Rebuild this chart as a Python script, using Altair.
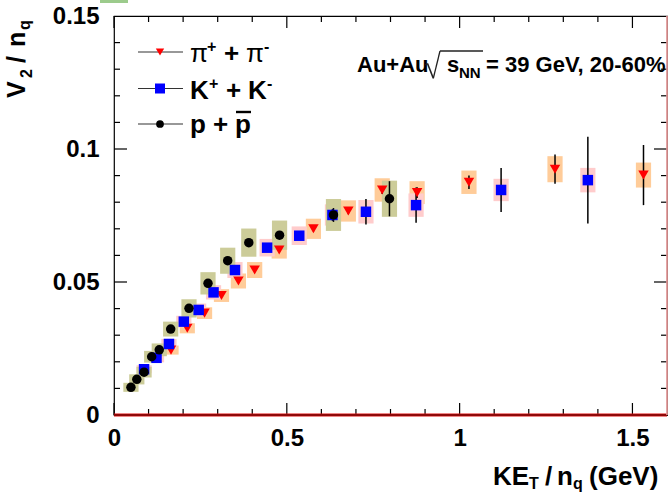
import altair as alt
import pandas as pd

# ---------------- data ----------------
pi_ke = [0.165, 0.212, 0.262, 0.311, 0.360, 0.407, 0.478, 0.577, 0.678, 0.776, 0.877, 1.027, 1.276, 1.532]
pi_v2 = [0.0244, 0.0326, 0.0383, 0.0449, 0.0504, 0.0545, 0.0620, 0.0700, 0.0767, 0.0846, 0.0836, 0.0875, 0.0924, 0.0902]
pi_stat = [0.0004, 0.0004, 0.0005, 0.0005, 0.0006, 0.0006, 0.0008, 0.0010, 0.0012, 0.0015, 0.0020, 0.0025, 0.0055, 0.0113]
pi_sys = [0.0017, 0.0019, 0.0022, 0.0024, 0.0028, 0.0030, 0.0032, 0.0038, 0.0040, 0.0044, 0.0043, 0.0044, 0.0049, 0.0047]

k_ke = [0.087, 0.123, 0.159, 0.202, 0.245, 0.288, 0.350, 0.443, 0.536, 0.632, 0.729, 0.874, 1.120, 1.371]
k_v2 = [0.0172, 0.0215, 0.0267, 0.0351, 0.0395, 0.0461, 0.0545, 0.0629, 0.0674, 0.0752, 0.0764, 0.0789, 0.0846, 0.0883]
k_stat = [0.0003, 0.0003, 0.0004, 0.0004, 0.0005, 0.0005, 0.0006, 0.0008, 0.0015, 0.0022, 0.0048, 0.0066, 0.0083, 0.0163]
k_sys = [0.0015, 0.0017, 0.0019, 0.0022, 0.0024, 0.0027, 0.0030, 0.0033, 0.0035, 0.0040, 0.0044, 0.0044, 0.0042, 0.0046]

p_ke = [0.049, 0.066, 0.087, 0.109, 0.131, 0.164, 0.217, 0.272, 0.329, 0.390, 0.479, 0.635, 0.797]
p_v2 = [0.0104, 0.0134, 0.0161, 0.0219, 0.0245, 0.0323, 0.0401, 0.0495, 0.0580, 0.0648, 0.0676, 0.0752, 0.0813]
p_stat = [0.0003, 0.0003, 0.0003, 0.0004, 0.0004, 0.0005, 0.0005, 0.0006, 0.0007, 0.0008, 0.0010, 0.0026, 0.0066]
p_sys = [0.0017, 0.0019, 0.0020, 0.0022, 0.0024, 0.0028, 0.0034, 0.0042, 0.0049, 0.0053, 0.0055, 0.0060, 0.0068]

species = ["pi", "K", "p"]
box_colors = ["#FFCC99", "#FFCCCC", "#CCCC99"]

x_major = [0, 0.5, 1.0, 1.5]
x_minor = [0.1, 0.2, 0.3, 0.4, 0.6, 0.7, 0.8, 0.9, 1.1, 1.2, 1.3, 1.4]
y_labels = [0, 0.05, 0.1, 0.15]
y_major = [0.05, 0.1]
y_minor = [0.01, 0.02, 0.03, 0.04, 0.06, 0.07, 0.08, 0.09, 0.11, 0.12, 0.13, 0.14]

frames = []
for name, a, b, c, d in [("pi", pi_ke, pi_v2, pi_stat, pi_sys),
                         ("K", k_ke, k_v2, k_stat, k_sys),
                         ("p", p_ke, p_v2, p_stat, p_sys)]:
    frames.append(pd.DataFrame({"species": name, "ke": a, "v2": b, "stat": c, "sys": d}))
df = pd.concat(frames, ignore_index=True)

# ---------------- layout ----------------
W, H = 553, 399
FONT = "Liberation Sans, Arial, Helvetica, sans-serif"

xs = alt.Scale(domain=[0, 1.6], nice=False, zero=False)
ys = alt.Scale(domain=[0, 0.15], nice=False, zero=False)

x_axis = alt.Axis(values=x_major, format=".1~f", ticks=False, domain=False, grid=False,
                  labelFont=FONT, labelFontSize=24, labelFontWeight="bold", labelColor="black",
                  labelPadding=11, labelFlush=False, labelOverlap=False, labelAngle=0, title=None)
y_axis = alt.Axis(values=y_labels, format=".2~f", ticks=False, domain=False, grid=False,
                  labelFont=FONT, labelFontSize=24, labelFontWeight="bold", labelColor="black",
                  labelPadding=15, labelFlush=False, labelOverlap=False, labelBound=False, title=None)

X = alt.X("ke:Q", scale=xs, axis=x_axis)

base = alt.Chart(df).transform_calculate(
    xlo="datum.ke - 0.022", xhi="datum.ke + 0.022",
    slo="datum.v2 - datum.sys", shi="datum.v2 + datum.sys",
    elo="datum.v2 - datum.stat", ehi="datum.v2 + datum.stat",
)

boxes = base.mark_rect(opacity=1).encode(
    x=alt.X("xlo:Q", scale=xs, axis=x_axis), x2="xhi:Q",
    y=alt.Y("slo:Q", scale=ys, axis=y_axis), y2="shi:Q",
    color=alt.Color("species:N", scale=alt.Scale(domain=species, range=box_colors), legend=None),
)

errs = base.mark_rule(color="black", strokeWidth=1.5).encode(
    x=X, y=alt.Y("elo:Q", scale=ys, axis=y_axis), y2="ehi:Q")

def markers(name, shape, color, size):
    return base.transform_filter(alt.datum.species == name).mark_point(
        shape=shape, filled=True, color=color, size=size, opacity=1, strokeWidth=0
    ).encode(x=X, y=alt.Y("v2:Q", scale=ys, axis=y_axis))

m_pi = markers("pi", "triangle-down", "#FF0000", 110)
m_k = markers("K", "square", "#0000FF", 110)
m_p = markers("p", "circle", "#000000", 90)

# ticks (inside, on all four sides)
xt_major = pd.DataFrame({"t": x_major})
xt_minor = pd.DataFrame({"t": x_minor})
yt_major = pd.DataFrame({"t": y_major})
yt_minor = pd.DataFrame({"t": y_minor})

def xticks(d, L):
    bot = alt.Chart(d).mark_rule(color="black", strokeWidth=1.2).encode(
        x=alt.X("t:Q", scale=xs, axis=x_axis), y=alt.value(H), y2=alt.value(H - L))
    top = alt.Chart(d).mark_rule(color="black", strokeWidth=1.2).encode(
        x=alt.X("t:Q", scale=xs, axis=x_axis), y=alt.value(0), y2=alt.value(L))
    return [bot, top]

def yticks(d, L):
    lft = alt.Chart(d).mark_rule(color="black", strokeWidth=1.2).encode(
        y=alt.Y("t:Q", scale=ys, axis=y_axis), x=alt.value(0), x2=alt.value(L))
    rgt = alt.Chart(d).mark_rule(color="black", strokeWidth=1.2).encode(
        y=alt.Y("t:Q", scale=ys, axis=y_axis), x=alt.value(W), x2=alt.value(W - L))
    return [lft, rgt]

ticks = xticks(xt_major, 12) + xticks(xt_minor, 6) + yticks(yt_major, 13) + yticks(yt_minor, 6)

zero = pd.DataFrame({"z": [0]})
zero_red = alt.Chart(zero).mark_rule(color="#E01010", strokeWidth=3).encode(
    y=alt.Y("z:Q", scale=ys, axis=y_axis), x=alt.value(0), x2=alt.value(W))
zero_blk = alt.Chart(zero).mark_rule(color="#400000", strokeWidth=1).encode(
    y=alt.Y("z:Q", scale=ys, axis=y_axis), x=alt.value(0), x2=alt.value(W))

# ---------------- decorations (legend, titles, label) ----------------
one = pd.DataFrame({"a": [0]})

def txt(s, x, y, size, weight="bold", angle=0):
    return alt.Chart(one).mark_text(
        font=FONT, fontSize=size, fontWeight=weight, align="left", baseline="alphabetic",
        angle=angle, color="black"
    ).encode(x=alt.value(x), y=alt.value(y), text=alt.value(s))

def seg(x1, y1, x2, y2, color="black", w=1.2):
    return alt.Chart(one).mark_rule(color=color, strokeWidth=w).encode(
        x=alt.value(x1), x2=alt.value(x2), y=alt.value(y1), y2=alt.value(y2))

def sym(x, y, shape, color, size):
    return alt.Chart(one).mark_point(shape=shape, filled=True, color=color, size=size,
                                     opacity=1, strokeWidth=0).encode(x=alt.value(x), y=alt.value(y))

deco = []
# legend
LY = [36, 72.5, 108]
for yy in LY:
    deco.append(seg(24, yy, 69, yy, "#333333", 1.2))
deco += [sym(46, LY[0], "triangle-down", "#FF0000", 70),
         sym(46, LY[1], "square", "#0000FF", 100),
         sym(46, LY[2], "circle", "#000000", 60)]
FS = 26
b1, b2, b3 = LY[0] + 10, LY[1] + 10, LY[2] + 9
deco += [txt("π", 76, b1, FS, "normal"), txt("+", 93, b1 - 10, 16),
         txt("+", 110, b1, FS), txt("π", 132, b1, FS, "normal"), txt("-", 150, b1 - 10, 16)]
deco += [txt("K", 76, b2, FS), txt("+", 95, b2 - 10, 16),
         txt("+", 112, b2, FS), txt("K", 134, b2, FS), txt("-", 153, b2 - 10, 16)]
deco += [txt("p", 76, b3, FS), txt("+", 99, b3, FS), txt("p", 121, b3, FS),
         seg(122, b3 - 21, 137, b3 - 21, "black", 2.4)]

# collision label
AB = 56
deco += [txt("Au+Au", 243, AB, 22),
         seg(311.5, 49, 313.5, 47.5, "#222222", 1.3),
         seg(313.5, 47.5, 319.3, 62.3, "#222222", 1.6),
         seg(319.3, 62.3, 326, 35, "#222222", 1.3),
         seg(326, 35, 369, 35, "#222222", 1.3),
         txt("s", 333, AB, 22), txt("NN", 345, AB + 6, 15),
         txt("= 39 GeV, 20-60%", 372, AB, 22)]

# x title
XB = 469
deco += [txt("KE", 379, XB, 26), txt("T", 415, XB + 4, 16), txt("/", 431, XB, 26),
         txt("n", 443, XB, 26), txt("q", 459, XB + 4, 16), txt("(GeV)", 475, XB, 26)]

# y title (rotated)
deco += [txt("V", -89, 82, 25, angle=270), txt("2", -82, 62, 16, angle=270),
         txt("/", -89, 47, 25, angle=270), txt("n", -89, 31, 25, angle=270),
         txt("q", -84, 14, 16, angle=270)]

# small green tab at the top-left corner of the picture
deco.append(alt.Chart(one).mark_rect(color="#9CCB8C").encode(
    x=alt.value(-14), x2=alt.value(14), y=alt.value(-16), y2=alt.value(-13)))

# right frame edge (pinkish in the reference)
deco.append(seg(W, 0, W, H, "#F2A0A0", 1.6))

chart = alt.layer(
    boxes, errs, m_pi, m_k, m_p, *ticks, zero_red, zero_blk, *deco
).properties(
    width=W, height=H,
    autosize=alt.AutoSizeParams(type="none"),
    padding={"left": 114, "top": 16, "right": 1, "bottom": 81},
    background="white",
).configure_view(stroke="black", strokeWidth=1.2).resolve_scale(color="independent")

chart.save("out.html", embed_options={"renderer": "svg", "actions": False})
